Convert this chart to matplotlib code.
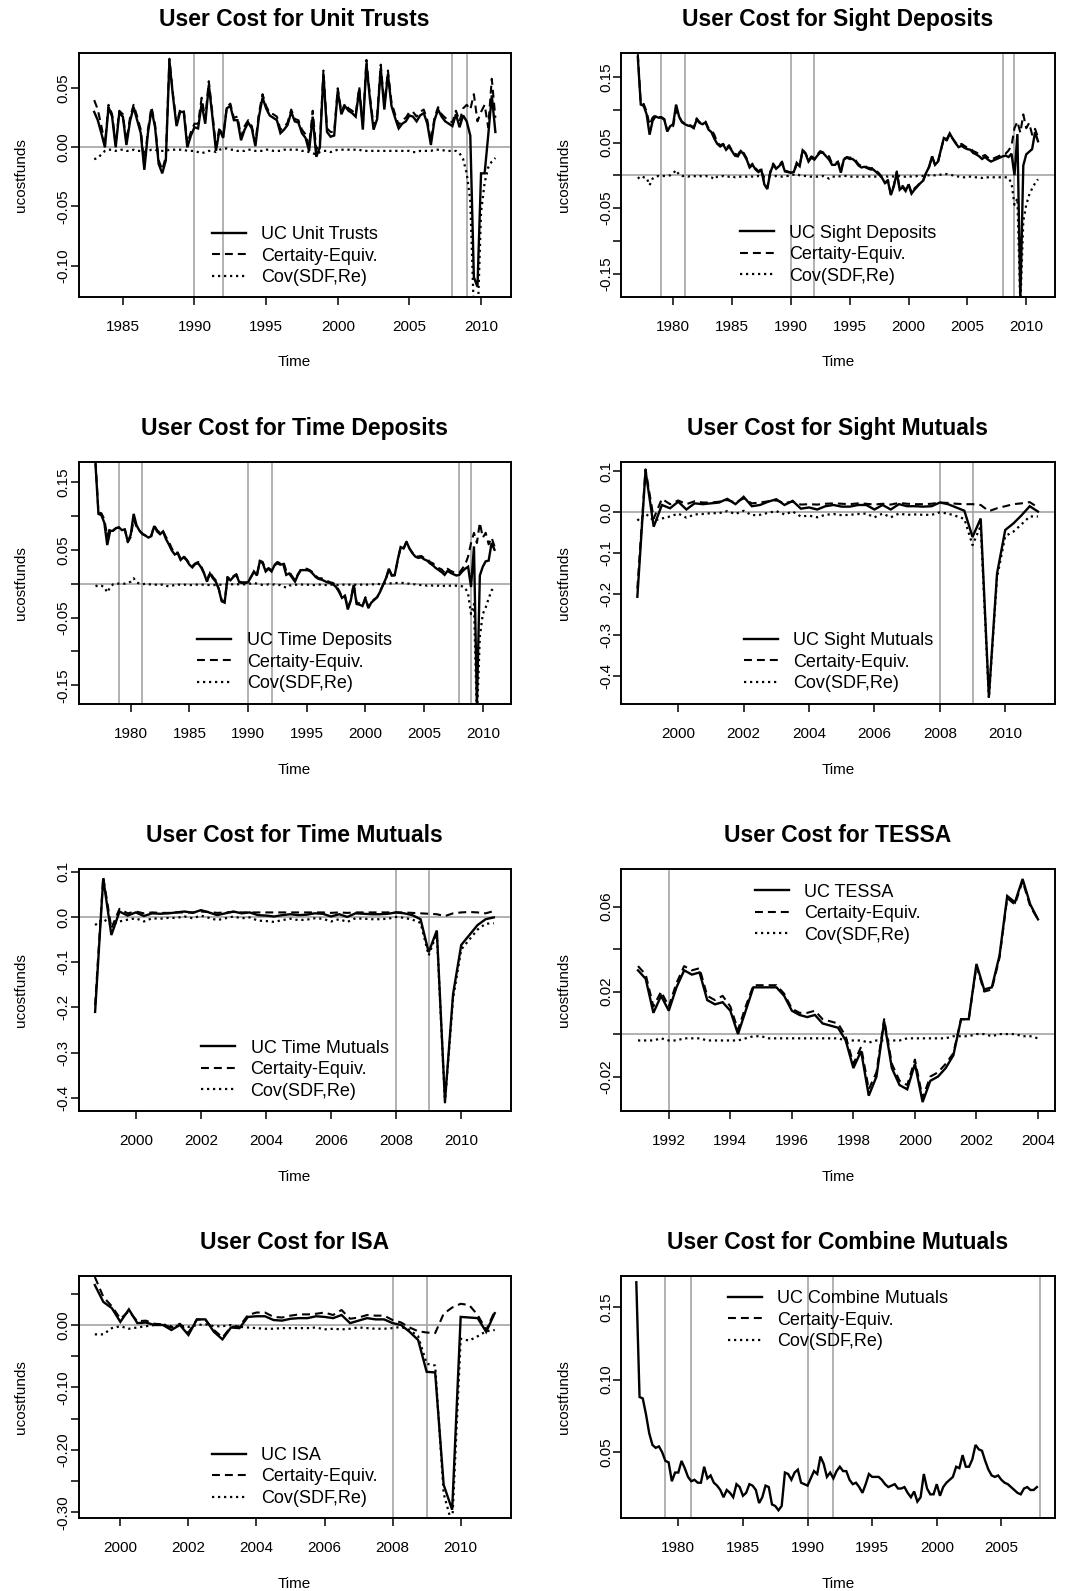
import numpy as np
import matplotlib
matplotlib.use("Agg")
import matplotlib.pyplot as plt
from matplotlib.lines import Line2D

plt.rcParams['font.family'] = ['Liberation Sans', 'DejaVu Sans']
plt.rcParams['axes.unicode_minus'] = False

# ---------------- data (quarterly) ----------------
# Unit Trusts, 1983Q1 - 2011Q1
ut_start = 1983.0
uc_ut = [0.030, 0.023, 0.012, 0.000, 0.034, 0.026, 0.000, 0.029,
         0.026, 0.002, 0.022, 0.034, 0.023, 0.012, -0.019, 0.012,
         0.032, 0.017, -0.014, -0.022, -0.011, 0.073, 0.043, 0.018,
         0.030, 0.030, 0.000, 0.010, 0.017, 0.016, 0.037, 0.020,
         0.053, 0.026, -0.003, 0.015, 0.008, 0.033, 0.035, 0.023,
         0.023, 0.006, 0.015, 0.021, 0.016, 0.001, 0.026, 0.042,
         0.033, 0.027, 0.025, 0.023, 0.012, 0.015, 0.019, 0.030,
         0.022, 0.021, 0.012, 0.008, -0.003, 0.026, -0.008, 0.000,
         0.062, 0.013, 0.009, 0.010, 0.048, 0.028, 0.035, 0.031,
         0.029, 0.026, 0.049, 0.015, 0.071, 0.040, 0.015, 0.024,
         0.067, 0.032, 0.062, 0.035, 0.025, 0.016, 0.020, 0.022,
         0.027, 0.026, 0.022, 0.027, 0.029, 0.020, 0.002, 0.023,
         0.032, 0.026, 0.022, 0.020, 0.018, 0.028, 0.017, 0.027,
         0.022, 0.010, -0.110, -0.118, -0.022, -0.022, 0.010, 0.044,
         0.013]
ce_ut = [0.040, 0.032, 0.018, 0.003, 0.036, 0.028, 0.003, 0.031,
         0.028, 0.005, 0.025, 0.036, 0.026, 0.015, -0.015, 0.015,
         0.034, 0.019, -0.011, -0.019, -0.008, 0.075, 0.045, 0.020,
         0.032, 0.032, 0.003, 0.013, 0.020, 0.020, 0.042, 0.024,
         0.056, 0.029, 0.001, 0.017, 0.009, 0.034, 0.037, 0.025,
         0.026, 0.009, 0.018, 0.023, 0.018, 0.004, 0.029, 0.045,
         0.035, 0.029, 0.028, 0.026, 0.015, 0.017, 0.021, 0.032,
         0.024, 0.023, 0.015, 0.011, 0.001, 0.031, -0.002, 0.004,
         0.065, 0.016, 0.013, 0.013, 0.050, 0.030, 0.037, 0.033,
         0.031, 0.028, 0.051, 0.018, 0.074, 0.043, 0.018, 0.027,
         0.070, 0.035, 0.065, 0.038, 0.028, 0.019, 0.023, 0.025,
         0.030, 0.030, 0.026, 0.030, 0.032, 0.023, 0.005, 0.025,
         0.034, 0.028, 0.025, 0.023, 0.021, 0.031, 0.022, 0.033,
         0.036, 0.032, 0.045, 0.022, 0.030, 0.036, 0.017, 0.058,
         0.025]
cov_ut = [-0.010, -0.009, -0.006, -0.003, -0.002, -0.002, -0.003, -0.002,
          -0.002, -0.003, -0.003, -0.002, -0.003, -0.003, -0.004, -0.003,
          -0.002, -0.002, -0.003, -0.003, -0.003, -0.002, -0.002, -0.002,
          -0.002, -0.002, -0.003, -0.003, -0.003, -0.004, -0.005, -0.004,
          -0.003, -0.003, -0.004, -0.002, -0.001, -0.001, -0.002, -0.002,
          -0.003, -0.003, -0.003, -0.002, -0.002, -0.003, -0.003, -0.003,
          -0.002, -0.002, -0.003, -0.003, -0.003, -0.002, -0.002, -0.002,
          -0.002, -0.002, -0.003, -0.003, -0.004, -0.005, -0.006, -0.004,
          -0.003, -0.003, -0.004, -0.003, -0.002, -0.002, -0.002, -0.002,
          -0.002, -0.002, -0.002, -0.003, -0.003, -0.003, -0.003, -0.003,
          -0.003, -0.003, -0.003, -0.003, -0.003, -0.003, -0.003, -0.003,
          -0.003, -0.004, -0.004, -0.003, -0.003, -0.003, -0.003, -0.002,
          -0.002, -0.002, -0.003, -0.003, -0.003, -0.003, -0.005, -0.010,
          -0.022, -0.045, -0.140, -0.150, -0.055, -0.030, -0.017, -0.012,
          -0.009]

# Sight Deposits, 1977Q1 - 2011Q1
sd_start = 1977.0
uc_sd = [0.180, 0.108, 0.106, 0.093, 0.062, 0.083, 0.090, 0.088,
         0.088, 0.085, 0.067, 0.075, 0.078, 0.108, 0.090, 0.081,
         0.078, 0.076, 0.075, 0.072, 0.085, 0.080, 0.078, 0.081,
         0.070, 0.066, 0.056, 0.048, 0.044, 0.047, 0.039, 0.044,
         0.037, 0.030, 0.029, 0.037, 0.032, 0.024, 0.012, 0.016,
         0.009, 0.005, 0.008, -0.014, -0.021, 0.004, 0.016, 0.010,
         0.014, 0.019, 0.006, 0.005, 0.004, 0.005, 0.019, 0.014,
         0.038, 0.033, 0.021, 0.027, 0.024, 0.030, 0.035, 0.034,
         0.029, 0.024, 0.016, 0.016, 0.020, 0.004, 0.024, 0.027,
         0.025, 0.025, 0.021, 0.015, 0.012, 0.013, 0.011, 0.009,
         0.009, 0.005, 0.001, -0.004, -0.012, -0.009, -0.030, -0.017,
         0.004, -0.022, -0.018, -0.024, -0.014, -0.028, -0.022, -0.017,
         -0.012, -0.008, 0.004, 0.013, 0.029, 0.016, 0.021, 0.039,
         0.057, 0.055, 0.064, 0.056, 0.049, 0.043, 0.045, 0.042,
         0.040, 0.039, 0.034, 0.032, 0.029, 0.025, 0.028, 0.024,
         0.021, 0.023, 0.025, 0.027, 0.029, 0.030, 0.028, 0.033,
         0.000, 0.063, -0.190, 0.015, 0.032, 0.036, 0.040, 0.066,
         0.052]
ce_sd = [0.185, 0.109, 0.109, 0.097, 0.077, 0.088, 0.092, 0.089,
         0.089, 0.086, 0.068, 0.075, 0.075, 0.100, 0.089, 0.082,
         0.079, 0.078, 0.076, 0.073, 0.087, 0.081, 0.080, 0.082,
         0.072, 0.069, 0.062, 0.050, 0.046, 0.048, 0.041, 0.046,
         0.038, 0.033, 0.031, 0.039, 0.034, 0.026, 0.013, 0.018,
         0.011, 0.006, 0.010, -0.012, -0.019, 0.005, 0.018, 0.011,
         0.015, 0.021, 0.007, 0.006, 0.004, 0.004, 0.017, 0.014,
         0.039, 0.034, 0.023, 0.029, 0.026, 0.032, 0.037, 0.035,
         0.032, 0.029, 0.018, 0.018, 0.021, 0.006, 0.025, 0.028,
         0.027, 0.027, 0.023, 0.017, 0.014, 0.015, 0.012, 0.011,
         0.011, 0.007, 0.003, -0.003, -0.011, -0.007, -0.029, -0.015,
         0.006, -0.021, -0.016, -0.022, -0.013, -0.026, -0.020, -0.016,
         -0.011, -0.007, 0.004, 0.013, 0.029, 0.016, 0.020, 0.038,
         0.056, 0.053, 0.063, 0.056, 0.050, 0.045, 0.048, 0.045,
         0.042, 0.041, 0.037, 0.035, 0.032, 0.029, 0.031, 0.027,
         0.024, 0.026, 0.028, 0.030, 0.032, 0.033, 0.038, 0.045,
         0.072, 0.082, 0.065, 0.093, 0.072, 0.080, 0.062, 0.071,
         0.058]
cov_sd = [-0.005, -0.001, -0.003, -0.004, -0.015, -0.005, -0.002, -0.001,
          -0.001, -0.001, -0.001, 0.000, 0.003, 0.008, 0.001, -0.001,
          -0.001, -0.002, -0.001, -0.001, -0.002, -0.001, -0.002, -0.001,
          -0.002, -0.003, -0.006, -0.002, -0.002, -0.001, -0.002, -0.002,
          -0.001, -0.003, -0.002, -0.002, -0.002, -0.002, -0.001, -0.002,
          -0.002, -0.001, -0.002, -0.002, -0.002, -0.001, -0.002, -0.001,
          -0.001, -0.002, -0.001, -0.001, 0.000, 0.001, 0.002, 0.000,
          -0.001, -0.001, -0.002, -0.002, -0.002, -0.002, -0.002, -0.001,
          -0.003, -0.005, -0.002, -0.002, -0.001, -0.002, -0.001, -0.001,
          -0.002, -0.002, -0.002, -0.002, -0.002, -0.002, -0.001, -0.002,
          -0.002, -0.002, -0.002, -0.001, -0.001, -0.002, -0.001, -0.002,
          -0.002, -0.001, -0.002, -0.002, -0.001, -0.002, -0.002, -0.001,
          -0.001, -0.001, 0.000, 0.000, 0.000, 0.000, 0.001, 0.001,
          0.001, 0.002, 0.001, 0.000, -0.001, -0.002, -0.003, -0.003,
          -0.002, -0.002, -0.003, -0.003, -0.003, -0.004, -0.003, -0.003,
          -0.003, -0.003, -0.003, -0.003, -0.003, -0.003, -0.004, -0.012,
          -0.045, -0.035, -0.200, -0.070, -0.045, -0.030, -0.020, -0.012,
          -0.006]

# Time Deposits, 1977Q1 - 2011Q1
td_start = 1977.0
uc_td = [0.176, 0.103, 0.101, 0.090, 0.057, 0.078, 0.078, 0.082,
         0.083, 0.079, 0.080, 0.062, 0.072, 0.103, 0.086, 0.078,
         0.073, 0.071, 0.068, 0.070, 0.085, 0.077, 0.073, 0.077,
         0.066, 0.058, 0.049, 0.043, 0.045, 0.035, 0.039, 0.035,
         0.028, 0.024, 0.029, 0.030, 0.024, 0.015, 0.003, 0.015,
         0.008, 0.003, -0.008, -0.026, -0.028, 0.008, 0.005, 0.010,
         0.013, 0.002, 0.001, 0.001, 0.002, 0.010, 0.018, 0.012,
         0.033, 0.030, 0.018, 0.022, 0.018, 0.027, 0.030, 0.028,
         0.029, 0.013, 0.015, 0.009, 0.003, 0.013, 0.020, 0.020,
         0.020, 0.019, 0.015, 0.010, 0.007, 0.006, 0.004, 0.002,
         0.001, -0.001, -0.005, -0.012, -0.021, -0.018, -0.038, -0.025,
         -0.002, -0.030, -0.031, -0.033, -0.022, -0.036, -0.028, -0.024,
         -0.020, -0.012, -0.002, 0.008, 0.022, 0.012, 0.013, 0.035,
         0.054, 0.052, 0.062, 0.052, 0.045, 0.040, 0.038, 0.039,
         0.036, 0.034, 0.030, 0.027, 0.023, 0.020, 0.017, 0.013,
         0.019, 0.016, 0.014, 0.012, 0.013, 0.018, 0.022, 0.025,
         -0.005, 0.055, -0.180, 0.012, 0.025, 0.033, 0.034, 0.060,
         0.050]
ce_td = [0.180, 0.105, 0.104, 0.095, 0.070, 0.083, 0.079, 0.082,
         0.083, 0.079, 0.080, 0.061, 0.069, 0.095, 0.084, 0.078,
         0.074, 0.071, 0.069, 0.071, 0.086, 0.079, 0.075, 0.078,
         0.069, 0.062, 0.052, 0.045, 0.046, 0.037, 0.041, 0.036,
         0.030, 0.026, 0.030, 0.032, 0.026, 0.016, 0.005, 0.017,
         0.010, 0.005, -0.007, -0.024, -0.027, 0.010, 0.006, 0.011,
         0.014, 0.003, 0.002, 0.002, 0.002, 0.010, 0.017, 0.012,
         0.034, 0.032, 0.020, 0.023, 0.020, 0.028, 0.032, 0.030,
         0.033, 0.019, 0.018, 0.011, 0.005, 0.014, 0.021, 0.022,
         0.022, 0.020, 0.017, 0.012, 0.008, 0.008, 0.006, 0.004,
         0.002, 0.001, -0.003, -0.010, -0.019, -0.017, -0.036, -0.024,
         -0.001, -0.028, -0.029, -0.032, -0.020, -0.035, -0.027, -0.023,
         -0.020, -0.011, -0.002, 0.007, 0.021, 0.012, 0.012, 0.034,
         0.053, 0.051, 0.062, 0.052, 0.046, 0.041, 0.040, 0.041,
         0.038, 0.037, 0.032, 0.030, 0.026, 0.023, 0.021, 0.016,
         0.022, 0.019, 0.017, 0.015, 0.016, 0.022, 0.028, 0.040,
         0.060, 0.075, 0.060, 0.090, 0.068, 0.075, 0.058, 0.068,
         0.055]
cov_td = [-0.004, -0.002, -0.003, -0.005, -0.013, -0.005, -0.001, 0.000,
          0.000, 0.000, 0.000, 0.001, 0.003, 0.008, 0.002, 0.000,
          -0.001, 0.000, -0.001, -0.001, -0.001, -0.002, -0.002, -0.001,
          -0.003, -0.004, -0.003, -0.002, -0.001, -0.002, -0.002, -0.001,
          -0.002, -0.002, -0.001, -0.002, -0.002, -0.001, -0.002, -0.002,
          -0.002, -0.002, -0.001, -0.002, -0.001, -0.002, -0.001, -0.001,
          -0.001, -0.001, -0.001, -0.001, 0.000, 0.000, 0.001, 0.000,
          -0.001, -0.002, -0.002, -0.001, -0.002, -0.001, -0.002, -0.002,
          -0.004, -0.006, -0.003, -0.002, -0.002, -0.001, -0.001, -0.002,
          -0.002, -0.001, -0.002, -0.002, -0.001, -0.002, -0.002, -0.002,
          -0.001, -0.002, -0.002, -0.002, -0.002, -0.001, -0.002, -0.001,
          -0.001, -0.002, -0.002, -0.001, -0.002, -0.001, -0.001, -0.001,
          0.000, -0.001, 0.000, 0.001, 0.001, 0.000, 0.001, 0.001,
          0.001, 0.001, 0.000, 0.000, -0.001, -0.001, -0.002, -0.002,
          -0.002, -0.003, -0.002, -0.003, -0.003, -0.003, -0.004, -0.003,
          -0.003, -0.003, -0.003, -0.003, -0.003, -0.004, -0.006, -0.015,
          -0.045, -0.030, -0.200, -0.078, -0.045, -0.035, -0.022, -0.010,
          -0.005]

# Sight Mutuals, 1998Q4 - 2011Q1
sm_start = 1998.75
uc_sm = [-0.206, 0.102, -0.035, 0.018, 0.010, 0.026, 0.007, 0.022, 0.020,
         0.022, 0.024, 0.033, 0.020, 0.038, 0.015, 0.018, 0.026,
         0.032, 0.018, 0.028, 0.009, 0.012, 0.007, 0.015, 0.018,
         0.014, 0.014, 0.018, 0.018, 0.007, 0.018, 0.007, 0.020,
         0.015, 0.015, 0.014, 0.015, 0.024, 0.020, 0.012, 0.004,
         -0.060, -0.015, -0.450, -0.149, -0.043, -0.027, -0.007, 0.015,
         0.002]
ce_sm = [-0.186, 0.105, -0.015, 0.033, 0.020, 0.029, 0.020, 0.027, 0.024,
         0.024, 0.026, 0.030, 0.024, 0.034, 0.022, 0.024, 0.027,
         0.029, 0.023, 0.026, 0.019, 0.020, 0.019, 0.021, 0.022,
         0.021, 0.020, 0.022, 0.021, 0.019, 0.021, 0.019, 0.023,
         0.021, 0.020, 0.020, 0.021, 0.024, 0.023, 0.021, 0.020,
         0.020, 0.018, 0.003, 0.010, 0.015, 0.020, 0.022, 0.025,
         0.012]
cov_sm = [-0.020, -0.003, -0.020, -0.015, -0.010, -0.003, -0.013, -0.005, -0.004,
          -0.002, -0.002, 0.003, -0.004, 0.004, -0.007, -0.006, -0.001,
          0.003, -0.005, 0.002, -0.010, -0.008, -0.012, -0.006, -0.004,
          -0.007, -0.006, -0.004, -0.003, -0.012, -0.003, -0.012, -0.003,
          -0.006, -0.005, -0.006, -0.006, 0.000, -0.003, -0.009, -0.016,
          -0.080, -0.033, -0.453, -0.159, -0.058, -0.047, -0.029, -0.010,
          -0.010]

# Time Mutuals, 1998Q4 - 2011Q1
tm_start = 1998.75
uc_tm = [-0.210, 0.085, -0.040, 0.012, 0.003, 0.010, 0.002, 0.008, 0.007,
         0.008, 0.010, 0.012, 0.009, 0.015, 0.010, 0.004, 0.008,
         0.012, 0.008, 0.010, 0.004, 0.003, 0.001, 0.004, 0.006,
         0.004, 0.005, 0.008, 0.007, 0.001, 0.006, 0.000, 0.008,
         0.007, 0.006, 0.006, 0.007, 0.010, 0.008, 0.004, -0.005,
         -0.078, -0.030, -0.408, -0.170, -0.062, -0.040, -0.018, -0.005,
         -0.001]
ce_tm = [-0.195, 0.088, -0.025, 0.018, 0.008, 0.012, 0.008, 0.010, 0.009,
         0.009, 0.010, 0.010, 0.010, 0.012, 0.011, 0.009, 0.010,
         0.011, 0.010, 0.010, 0.010, 0.010, 0.010, 0.010, 0.010,
         0.010, 0.010, 0.010, 0.010, 0.009, 0.010, 0.009, 0.010,
         0.010, 0.010, 0.010, 0.010, 0.010, 0.010, 0.009, 0.008,
         0.007, 0.006, 0.002, 0.008, 0.010, 0.011, 0.010, 0.008,
         0.013]
cov_tm = [-0.018, -0.004, -0.018, -0.010, -0.006, -0.003, -0.010, -0.003, -0.004,
          -0.002, -0.002, 0.001, -0.003, 0.003, -0.002, -0.007, -0.003,
          0.001, -0.003, -0.001, -0.008, -0.009, -0.011, -0.007, -0.004,
          -0.007, -0.006, -0.003, -0.004, -0.010, -0.005, -0.011, -0.003,
          -0.004, -0.005, -0.005, -0.004, 0.000, -0.002, -0.006, -0.013,
          -0.085, -0.036, -0.410, -0.180, -0.072, -0.050, -0.028, -0.015,
          -0.014]

# TESSA, 1991Q1 - 2004Q1
te_start = 1991.0
uc_te = [0.030, 0.026, 0.010, 0.018, 0.011, 0.022, 0.030, 0.028,
         0.029, 0.016, 0.014, 0.015, 0.011, 0.000, 0.011, 0.022,
         0.022, 0.022, 0.022, 0.018, 0.011, 0.009, 0.008, 0.009,
         0.005, 0.004, 0.003, -0.003, -0.016, -0.008, -0.029, -0.020,
         0.006, -0.016, -0.024, -0.026, -0.014, -0.032, -0.022, -0.020,
         -0.016, -0.010, 0.007, 0.007, 0.033, 0.021, 0.022, 0.037,
         0.065, 0.062, 0.073, 0.061, 0.054]
ce_te = [0.032, 0.028, 0.013, 0.020, 0.013, 0.024, 0.032, 0.030,
         0.031, 0.018, 0.016, 0.018, 0.013, 0.002, 0.013, 0.023,
         0.023, 0.023, 0.023, 0.019, 0.012, 0.010, 0.010, 0.011,
         0.007, 0.006, 0.005, -0.001, -0.014, -0.006, -0.026, -0.018,
         0.007, -0.014, -0.022, -0.024, -0.012, -0.030, -0.020, -0.018,
         -0.014, -0.009, 0.007, 0.007, 0.032, 0.020, 0.021, 0.036,
         0.064, 0.061, 0.072, 0.060, 0.054]
cov_te = [-0.003, -0.003, -0.003, -0.002, -0.003, -0.003, -0.002, -0.002,
          -0.002, -0.003, -0.003, -0.003, -0.003, -0.003, -0.002, -0.001,
          -0.001, -0.002, -0.002, -0.002, -0.002, -0.002, -0.002, -0.002,
          -0.002, -0.002, -0.002, -0.003, -0.003, -0.003, -0.004, -0.003,
          -0.003, -0.003, -0.003, -0.002, -0.002, -0.002, -0.002, -0.002,
          -0.002, -0.001, -0.001, -0.001, 0.000, 0.000, -0.001, 0.000,
          0.000, 0.000, -0.001, -0.001, -0.002]

# ISA, 1999Q2 - 2011Q1
isa_start = 1999.25
uc_isa = [0.064, 0.037, 0.027, 0.005, 0.025, 0.003, 0.004,
          0.000, 0.000, -0.008, 0.000, -0.016, 0.009, 0.009, -0.011,
          -0.023, -0.004, -0.005, 0.013, 0.014, 0.014, 0.008, 0.007,
          0.010, 0.011, 0.011, 0.014, 0.013, 0.011, 0.016, 0.003,
          0.007, 0.011, 0.009, 0.009, 0.003, 0.000, -0.011, -0.024,
          -0.075, -0.076, -0.256, -0.296, 0.013, 0.012, 0.011, -0.011,
          0.019]
ce_isa = [0.077, 0.045, 0.030, 0.010, 0.022, 0.006, 0.007,
          0.002, 0.001, -0.004, 0.002, -0.012, 0.009, 0.008, -0.008,
          -0.020, -0.003, -0.002, 0.016, 0.020, 0.020, 0.013, 0.012,
          0.015, 0.017, 0.017, 0.018, 0.020, 0.016, 0.024, 0.010,
          0.012, 0.016, 0.015, 0.015, 0.008, 0.004, -0.004, -0.010,
          -0.012, -0.013, 0.018, 0.028, 0.034, 0.032, 0.016, -0.008,
          0.022]
cov_isa = [-0.015, -0.015, -0.005, -0.002, -0.006, -0.004, -0.002,
           0.000, 0.001, -0.002, -0.001, -0.003, 0.000, 0.001, -0.002,
           -0.002, 0.000, -0.003, -0.004, -0.005, -0.006, -0.006, -0.005,
           -0.005, -0.005, -0.005, -0.004, -0.007, -0.006, -0.007, -0.006,
           -0.004, -0.005, -0.006, -0.006, -0.005, -0.003, -0.008, -0.018,
           -0.062, -0.065, -0.270, -0.320, -0.022, -0.025, -0.018, -0.010,
           -0.008]

# Combine Mutuals, 1976Q4 - 2007Q4
cm_start = 1976.75
uc_cm = [0.167, 0.088, 0.087, 0.076, 0.063, 0.055, 0.053, 0.054, 0.050,
         0.044, 0.043, 0.030, 0.036, 0.036, 0.044, 0.039, 0.033,
         0.030, 0.031, 0.029, 0.029, 0.040, 0.032, 0.034, 0.029,
         0.027, 0.024, 0.019, 0.024, 0.022, 0.019, 0.028, 0.026,
         0.020, 0.022, 0.028, 0.027, 0.024, 0.015, 0.019, 0.027,
         0.026, 0.014, 0.013, 0.010, 0.013, 0.036, 0.035, 0.031,
         0.036, 0.038, 0.029, 0.028, 0.027, 0.032, 0.037, 0.035,
         0.047, 0.042, 0.033, 0.036, 0.032, 0.037, 0.040, 0.037,
         0.037, 0.031, 0.028, 0.029, 0.026, 0.022, 0.028, 0.035,
         0.033, 0.033, 0.033, 0.031, 0.028, 0.026, 0.027, 0.028,
         0.025, 0.025, 0.026, 0.022, 0.019, 0.023, 0.016, 0.019,
         0.035, 0.025, 0.021, 0.021, 0.028, 0.020, 0.026, 0.029,
         0.031, 0.033, 0.040, 0.039, 0.048, 0.040, 0.040, 0.045,
         0.055, 0.052, 0.051, 0.044, 0.038, 0.034, 0.033, 0.034,
         0.031, 0.029, 0.028, 0.026, 0.024, 0.022, 0.021, 0.025,
         0.026, 0.024, 0.024, 0.026]

legend_ce = "Certaity-Equiv."
legend_cov = "Cov(SDF,Re)"

# ---------------- layout ----------------
W, H = 1070, 1591
fig = plt.figure(figsize=(W / 100, H / 100), dpi=100)
fig.patch.set_facecolor('white')

COLS = [(78.5, 510.7), (621.0, 1054.6)]
ROWS = [(53.3, 296.7), (461.7, 704.0), (869.0, 1111.0), (1275.7, 1518.3)]
GRAY = '#ababab'
DASH = (0, (3.8, 2.4))
DOT = (0, (1.0, 1.7))


def make_axes(col, row):
    l, r = COLS[col]
    t, b = ROWS[row]
    ax = fig.add_axes([l / W, 1 - b / H, (r - l) / W, (b - t) / H])
    return ax, (r - l), (b - t)


def panel(col, row, title, label, start, uc, ce, cov, xlim, ylim, xticks,
          yticks, ylabels, vlines, leg_x, leg_top):
    ax, wpx, hpx = make_axes(col, row)
    for v in vlines:
        ax.axvline(v, color=GRAY, lw=1.3, zorder=1)
    if ylim[0] < 0 < ylim[1]:
        ax.axhline(0, color=GRAY, lw=1.3, zorder=1)
    t = start + 0.25 * np.arange(len(uc))
    ax.plot(t, uc, color='black', lw=1.7, zorder=3, solid_joinstyle='miter')
    if ce is not None:
        ax.plot(start + 0.25 * np.arange(len(ce)), ce, color='black', lw=1.5,
                ls=DASH, zorder=3)
    if cov is not None:
        ax.plot(start + 0.25 * np.arange(len(cov)), cov, color='black', lw=1.6,
                ls=DOT, zorder=3)
    ax.set_xlim(*xlim)
    ax.set_ylim(*ylim)
    ax.set_xticks(xticks)
    ax.set_xticklabels([str(x) for x in xticks])
    ax.set_yticks(yticks)
    ax.set_yticklabels(ylabels)
    for s in ax.spines.values():
        s.set_linewidth(1.4)
        s.set_color('black')
    ax.tick_params(axis='both', direction='out', length=6, width=1.1,
                   labelsize=11, colors='black', top=False, right=False)
    ax.tick_params(axis='x', pad=10.5)
    ax.tick_params(axis='y', pad=-0.5, labelrotation=90)
    for lab in ax.get_yticklabels():
        lab.set_va('center')
    ax.set_title(title, fontsize=16.5, fontweight='bold', pad=19.5)
    ax.set_xlabel('Time', fontsize=11)
    ax.xaxis.set_label_coords(0.5, -58.6 / hpx)
    ax.set_ylabel('ucostfunds', fontsize=11)
    ax.yaxis.set_label_coords(-50.0 / wpx, 0.5)
    handles = [Line2D([], [], color='black', lw=1.7),
               Line2D([], [], color='black', lw=1.5, ls=DASH),
               Line2D([], [], color='black', lw=1.6, ls=DOT)]
    ax.legend(handles, [label, legend_ce, legend_cov], loc='upper left',
              bbox_to_anchor=(leg_x, leg_top), frameon=False, fontsize=13,
              handlelength=1.88, handletextpad=0.85, labelspacing=0.25,
              borderpad=0, borderaxespad=0)
    return ax


panel(0, 0, "User Cost for Unit Trusts", "UC Unit Trusts", ut_start,
      uc_ut, ce_ut, cov_ut, (1981.905, 2012.07), (-0.1264, 0.0796),
      [1985, 1990, 1995, 2000, 2005, 2010],
      [-0.10, -0.05, 0.00, 0.05], ['-0.10', '-0.05', '0.00', '0.05'],
      [1990, 1992, 2008, 2009], 0.308, 0.290)

panel(1, 0, "User Cost for Sight Deposits", "UC Sight Deposits", sd_start,
      uc_sd, ce_sd, cov_sd, (1975.57, 2012.41), (-0.1853, 0.1863),
      [1980, 1985, 1990, 1995, 2000, 2005, 2010],
      [-0.15, -0.10, -0.05, 0.0, 0.05, 0.10, 0.15],
      ['-0.15', '', '-0.05', '', '0.05', '', '0.15'],
      [1979, 1981, 1990, 1992, 2008, 2009], 0.274, 0.296)

panel(0, 1, "User Cost for Time Deposits", "UC Time Deposits", td_start,
      uc_td, ce_td, cov_td, (1975.55, 2012.38), (-0.1776, 0.180),
      [1980, 1985, 1990, 1995, 2000, 2005, 2010],
      [-0.15, -0.10, -0.05, 0.0, 0.05, 0.10, 0.15],
      ['-0.15', '', '-0.05', '', '0.05', '', '0.15'],
      [1979, 1981, 1990, 1992, 2008, 2009], 0.275, 0.296)

panel(1, 1, "User Cost for Sight Mutuals", "UC Sight Mutuals", sm_start,
      uc_sm, ce_sm, cov_sm, (1998.25, 2011.51), (-0.4675, 0.1236),
      [2000, 2002, 2004, 2006, 2008, 2010],
      [-0.4, -0.3, -0.2, -0.1, 0.0, 0.1],
      ['-0.4', '-0.3', '-0.2', '-0.1', '0.0', '0.1'],
      [2008, 2009], 0.283, 0.296)

panel(0, 2, "User Cost for Time Mutuals", "UC Time Mutuals", tm_start,
      uc_tm, ce_tm, cov_tm, (1998.24, 2011.52), (-0.429, 0.106),
      [2000, 2002, 2004, 2006, 2008, 2010],
      [-0.4, -0.3, -0.2, -0.1, 0.0, 0.1],
      ['-0.4', '-0.3', '-0.2', '-0.1', '0.0', '0.1'],
      [2008, 2009], 0.284, 0.295)

panel(1, 2, "User Cost for TESSA", "UC TESSA", te_start,
      uc_te, ce_te, cov_te, (1990.447, 2004.54), (-0.0362, 0.0777),
      [1992, 1994, 1996, 1998, 2000, 2002, 2004],
      [-0.02, 0.0, 0.02, 0.04, 0.06], ['-0.02', '', '0.02', '', '0.06'],
      [1992], 0.309, 0.939)

panel(0, 3, "User Cost for ISA", "UC ISA", isa_start,
      uc_isa, ce_isa, cov_isa, (1998.77, 2011.47), (-0.3097, 0.079),
      [2000, 2002, 2004, 2006, 2008, 2010],
      [-0.30, -0.25, -0.20, -0.15, -0.10, -0.05, 0.0, 0.05],
      ['-0.30', '', '-0.20', '', '-0.10', '', '0.00', ''],
      [2008, 2009], 0.308, 0.294)

panel(1, 3, "User Cost for Combine Mutuals", "UC Combine Mutuals", cm_start,
      uc_cm, None, None, (1975.565, 2009.12), (0.0045, 0.1715),
      [1980, 1985, 1990, 1995, 2000, 2005],
      [0.05, 0.10, 0.15], ['0.05', '0.10', '0.15'],
      [1979, 1981, 1990, 1992, 2008], 0.246, 0.940)

fig.savefig('out.png', dpi=100, facecolor='white')
